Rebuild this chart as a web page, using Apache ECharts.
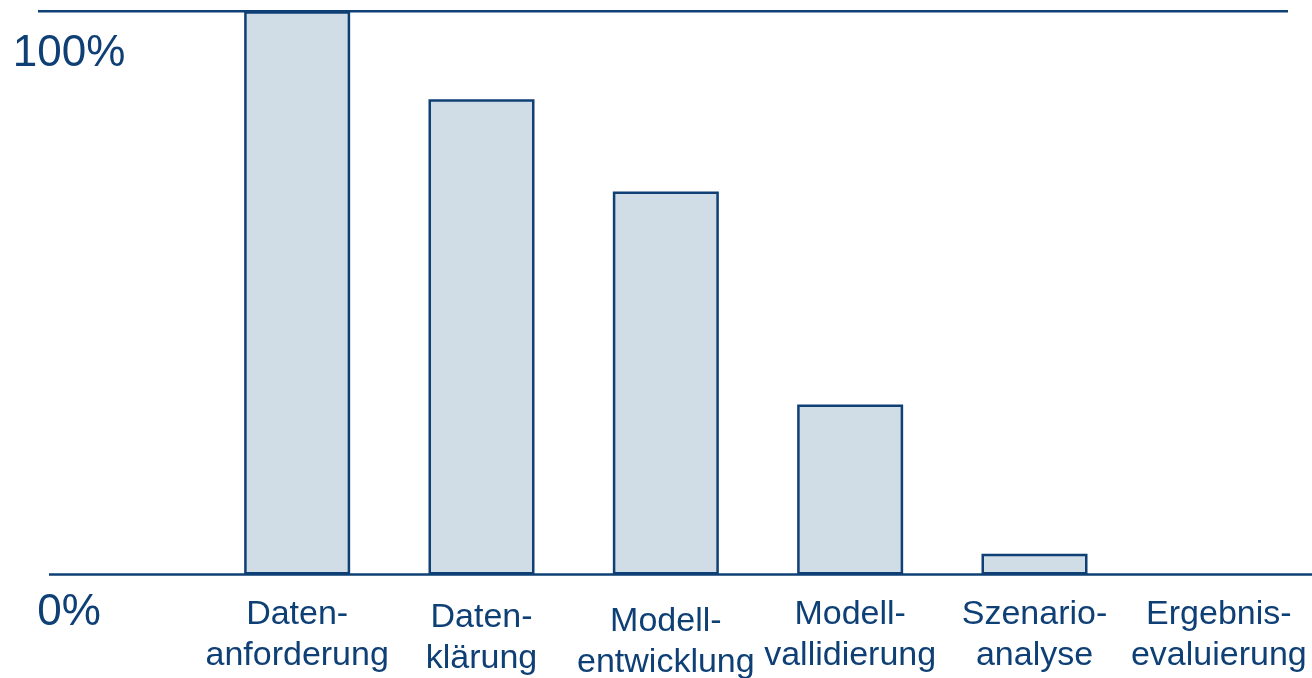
<!DOCTYPE html>
<html>
<head>
<meta charset="utf-8">
<title>Datenprozess</title>
<script src="https://cdn.jsdelivr.net/npm/echarts@6/dist/echarts.min.js"></script>
<style>
  html, body { margin: 0; padding: 0; background: #ffffff; }
  #chart { width: 1312px; height: 678px; }
</style>
</head>
<body>
<div id="chart"></div>
<script>
// Prozessschritte und ihr Anteil in Prozent
const categories = [
  'Daten-\nanforderung',
  'Daten-\nklärung',
  'Modell-\nentwicklung',
  'Modell-\nvallidierung',
  'Szenario-\nanalyse',
  'Ergebnis-\nevaluierung'
];
const shares = [100, 84.4, 68, 30.2, 3.7, 0];
const yTicks = { 0: '0%', 100: '100%' };

const INK = '#0e3f75';
const FILL = '#d0dde7';
const FONT = '"Liberation Sans", Arial, Helvetica, sans-serif';

// some labels sit a little lower than the rest
const labelDrop = [0, 3, 7, 0, 0, 0];

const chart = echarts.init(document.getElementById('chart'), null, { renderer: 'canvas' });

chart.setOption({
  animation: false,
  backgroundColor: '#ffffff',
  grid: { left: 205, right: 1, top: 11.3, bottom: 103.5, containLabel: false, outerBoundsMode: 'none' },
  xAxis: {
    type: 'category',
    data: categories.map((c, i) => labelDrop[i] ? { value: c, textStyle: { padding: [labelDrop[i], 0, 0, 0] } } : c),
    axisLine: { show: false },
    axisTick: { show: false },
    axisLabel: {
      interval: 0,
      margin: 19.5,
      color: INK,
      fontFamily: FONT,
      fontSize: 34,
      lineHeight: 41
    }
  },
  yAxis: {
    type: 'value',
    min: 0,
    max: 100,
    interval: 100,
    splitLine: { show: false },
    axisLine: { show: false },
    axisTick: { show: false },
    axisLabel: {
      margin: 136,
      align: 'center',
      verticalAlign: 'top',
      formatter: v => v === 100 ? '{hi|' + yTicks[v] + '}' : '{lo|' + yTicks[v] + '}',
      rich: {
        hi: { color: INK, fontFamily: FONT, fontSize: 44, lineHeight: 50, padding: [35, 0, 0, 0] },
        lo: { color: INK, fontFamily: FONT, fontSize: 44, lineHeight: 50, padding: [27, 0, 0, 0] }
      }
    }
  },
  series: [{
    type: 'bar',
    // a zero share gets no outline, so nothing shows above the baseline
    data: shares.map(v => v === 0 ? { value: v, itemStyle: { borderWidth: 0 } } : v),
    barWidth: 106,
    itemStyle: { color: FILL, borderColor: INK, borderWidth: 2.5 },
    z: 2
  }],
  graphic: [
    // obere Begrenzungslinie (100 %)
    { type: 'line', shape: { x1: 38, y1: 11.3, x2: 1288, y2: 11.3 }, style: { stroke: INK, lineWidth: 2.5 }, z: 10 },
    // Grundlinie (0 %)
    { type: 'line', shape: { x1: 49, y1: 574.5, x2: 1312, y2: 574.5 }, style: { stroke: INK, lineWidth: 2.5 }, z: 10 }
  ]
});
</script>
</body>
</html>
